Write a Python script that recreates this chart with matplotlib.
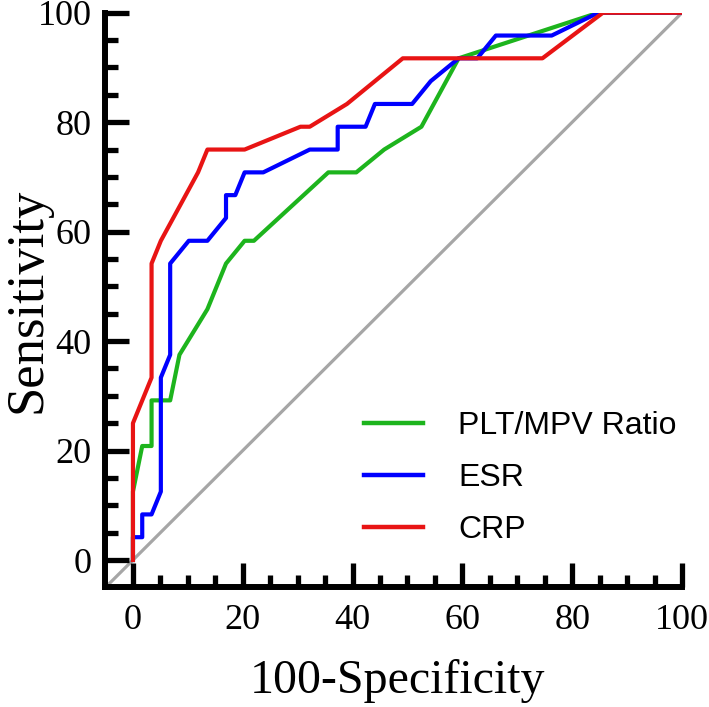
import numpy as np
import matplotlib
matplotlib.use("agg")
import matplotlib.pyplot as plt
from matplotlib.ticker import FixedLocator

# ROC curves (100-Specificity %, Sensitivity %)
plt_fpr = [0, 0, 1.69, 3.39, 3.39, 6.78, 8.47, 13.56, 16.95, 20.34, 22.03,
           35.59, 40.68, 45.76, 52.54, 59.32, 84.75, 100]
plt_tpr = [0, 12.5, 20.83, 20.83, 29.17, 29.17, 37.5, 45.83, 54.17, 58.33, 58.33,
           70.83, 70.83, 75.0, 79.17, 91.67, 100, 100]

esr_fpr = [0, 0, 1.69, 1.69, 3.39, 5.08, 5.08, 6.78, 6.78, 10.17, 13.56, 16.95,
           16.95, 18.64, 20.34, 23.73, 32.2, 37.29, 37.29, 42.37, 44.07, 50.85,
           54.24, 59.32, 62.71, 66.1, 76.27, 84.75, 100]
esr_tpr = [0, 4.17, 4.17, 8.33, 8.33, 12.5, 33.33, 37.5, 54.17, 58.33, 58.33, 62.5,
           66.67, 66.67, 70.83, 70.83, 75.0, 75.0, 79.17, 79.17, 83.33, 83.33,
           87.5, 91.67, 91.67, 95.83, 95.83, 100, 100]

crp_fpr = [0, 0, 3.39, 3.39, 5.08, 11.86, 13.56, 20.34, 30.51, 32.2, 38.98,
           49.15, 74.58, 85.6, 100]
crp_tpr = [0, 25.0, 33.33, 54.17, 58.33, 70.83, 75.0, 75.0, 79.17, 79.17, 83.33,
           91.67, 91.67, 100, 100]

series_names = ["PLT/MPV Ratio", "ESR", "CRP"]
series_colors = ["#1db41d", "#0000ff", "#e81414"]

fig = plt.figure(figsize=(7.09, 7.07), dpi=100)
ax = fig.add_axes([0.1488, 0.1692, 0.8131, 0.8128])

ax.plot([-5, 100], [-5, 100], color="#a6a6a6", lw=2.3, zorder=1)
for xs, ys, name, col in zip([plt_fpr, esr_fpr, crp_fpr],
                             [plt_tpr, esr_tpr, crp_tpr],
                             series_names, series_colors):
    ax.plot(xs, ys, color=col, lw=3.0, label=name, zorder=2)

ax.set_xlim(-5, 100)
ax.set_ylim(-5, 100)
for s in ["top", "right"]:
    ax.spines[s].set_visible(False)
for s in ["left", "bottom"]:
    ax.spines[s].set_linewidth(4.3)

ax.xaxis.set_major_locator(FixedLocator([0, 20, 40, 60, 80, 100]))
ax.yaxis.set_major_locator(FixedLocator([0, 20, 40, 60, 80, 100]))
ax.xaxis.set_minor_locator(FixedLocator([v for v in range(5, 100, 5) if v % 20]))
ax.yaxis.set_minor_locator(FixedLocator([v for v in range(5, 100, 5) if v % 20]))
ax.tick_params(which="major", direction="in", length=17, width=3.8, pad=12)
ax.tick_params(which="minor", direction="in", length=9, width=3.8)
for lab in ax.get_xticklabels() + ax.get_yticklabels():
    lab.set_fontfamily("Liberation Serif")
    lab.set_fontsize(26)
ax.tick_params(axis="y", pad=10)

ax.set_xlabel("100-Specificity", fontfamily="Liberation Serif", fontsize=34.5)
ax.set_ylabel("Sensitivity", fontfamily="Liberation Serif", fontsize=38)
ax.xaxis.set_label_coords(0.506, -0.124)
ax.yaxis.set_label_coords(-0.094, 0.5)

leg = ax.legend(loc="lower left", bbox_to_anchor=(0.398, 0.023), frameon=False,
                prop={"family": "Liberation Sans", "size": 23},
                handlelength=1.85, handletextpad=1.1, labelspacing=0.70)
for h in leg.get_lines():
    h.set_linewidth(3.2)

fig.savefig("out.png", dpi=100)
plt.close(fig)
